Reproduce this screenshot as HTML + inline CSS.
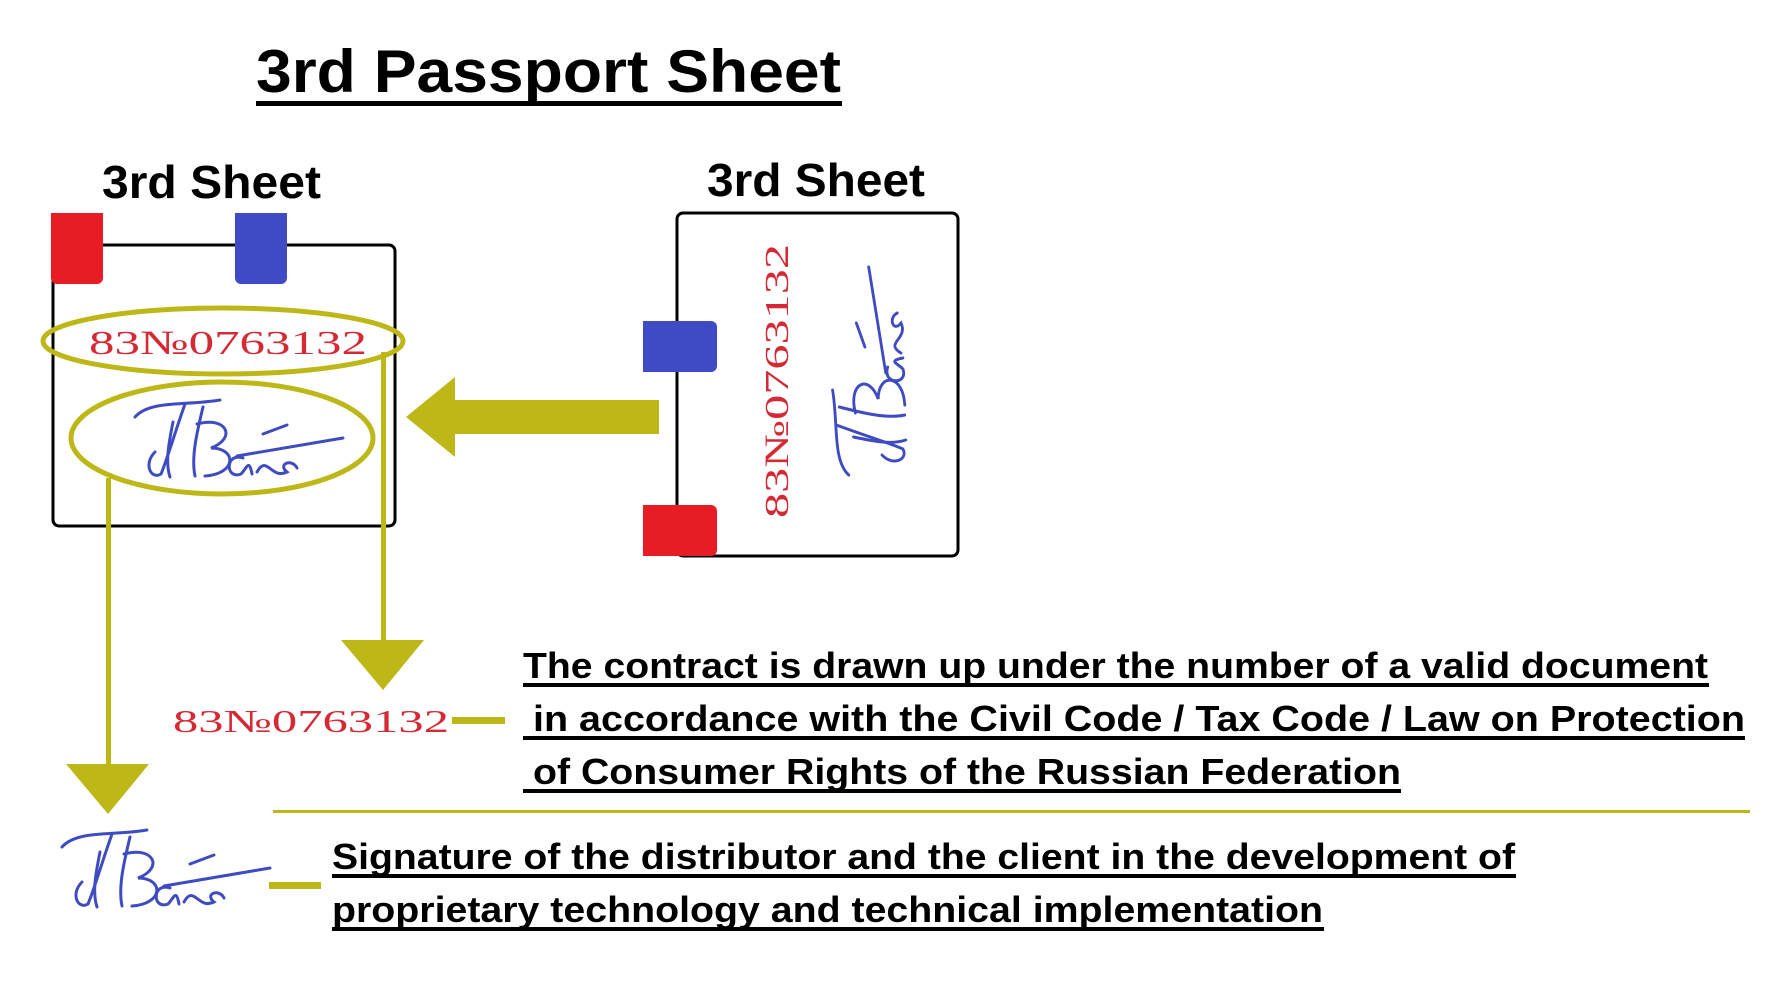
<!DOCTYPE html>
<html><head><meta charset="utf-8"><style>html,body{margin:0;padding:0;background:#fff}svg{display:block}</style></head>
<body>
<svg width="1780" height="1000" viewBox="0 0 1780 1000" xmlns="http://www.w3.org/2000/svg">
<defs>
<g id="sig" fill="none" stroke="#3f4cc0" stroke-width="3" stroke-linecap="round">
<path d="M10,25 C25,8 60,14 95,8"/>
<path d="M60,12 C50,40 42,68 36,82 C26,88 18,72 30,60"/>
<path d="M48,30 C44,50 40,70 45,85"/>
<path d="M78,15 C72,40 66,65 70,84 M72,32 C102,24 112,46 86,56 C112,56 112,82 80,84"/>
<path d="M118,66 C100,60 100,88 116,82 C122,76 124,66 127,82"/>
<path d="M132,80 C142,62 146,88 162,80 C152,72 167,66 172,76"/>
<path d="M138,42 L162,33"/>
<path d="M112,64 L218,46"/>
</g>
</defs>
<rect width="1780" height="1000" fill="#fff"/>
<!-- title -->
<text x="256" y="92" font-family="Liberation Sans, sans-serif" font-weight="bold" font-size="60" textLength="585" lengthAdjust="spacingAndGlyphs">3rd Passport Sheet</text>
<rect x="256" y="101" width="586" height="5" fill="#000"/>
<!-- left sheet -->
<text x="102" y="198" font-family="Liberation Sans, sans-serif" font-weight="bold" font-size="46" textLength="219" lengthAdjust="spacingAndGlyphs">3rd Sheet</text>
<rect x="53" y="245" width="342" height="281" rx="6" fill="none" stroke="#000" stroke-width="3"/>
<rect x="51" y="213" width="52" height="71" rx="6" fill="#e81c24"/>
<rect x="51" y="213" width="52" height="20" fill="#e81c24"/>
<rect x="235" y="213" width="52" height="71" rx="6" fill="#3f4bc5"/>
<rect x="235" y="213" width="52" height="20" fill="#3f4bc5"/>
<ellipse cx="223" cy="341" rx="180" ry="33" fill="none" stroke="#bdb717" stroke-width="5"/>
<text x="89" y="354" font-family="Liberation Serif, serif" font-size="34" fill="#d42a35" textLength="278" lengthAdjust="spacingAndGlyphs">83№0763132</text>
<ellipse cx="222" cy="438" rx="151" ry="56" fill="none" stroke="#bdb717" stroke-width="5"/>
<use href="#sig" transform="translate(125,392) scale(1.0,1.0)"/>
<!-- connectors -->
<rect x="106" y="478" width="5" height="290" fill="#bdb717"/>
<polygon points="66,764 149,764 108,814" fill="#bdb717"/>
<rect x="381" y="352" width="5" height="292" fill="#bdb717"/>
<polygon points="341,640 424,640 383,690" fill="#bdb717"/>
<!-- big arrow -->
<polygon points="406,417 455,377 455,400 659,400 659,434 455,434 455,457" fill="#bdb717"/>
<!-- right sheet -->
<text x="707" y="196" font-family="Liberation Sans, sans-serif" font-weight="bold" font-size="46" textLength="218" lengthAdjust="spacingAndGlyphs">3rd Sheet</text>
<rect x="677" y="213" width="281" height="343" rx="6" fill="none" stroke="#000" stroke-width="3"/>
<rect x="643" y="321" width="74" height="51" rx="6" fill="#3f4bc5"/>
<rect x="643" y="321" width="20" height="51" fill="#3f4bc5"/>
<rect x="643" y="505" width="74" height="51" rx="6" fill="#e81c24"/>
<rect x="643" y="505" width="20" height="51" fill="#e81c24"/>
<text transform="translate(788,518) rotate(-90)" font-family="Liberation Serif, serif" font-size="34" fill="#d42a35" textLength="274" lengthAdjust="spacingAndGlyphs">83№0763132</text>
<use href="#sig" transform="translate(825,485) rotate(-90) scale(1.0,0.95)"/>
<!-- bottom row 1 -->
<text x="173" y="732" font-family="Liberation Serif, serif" font-size="32" fill="#d42a35" textLength="276" lengthAdjust="spacingAndGlyphs">83№0763132</text>
<rect x="452" y="717" width="53" height="7" fill="#bdb717"/>
<g font-family="Liberation Sans, sans-serif" font-weight="bold" font-size="36" fill="#000">
<text x="523" y="678" textLength="1185" lengthAdjust="spacingAndGlyphs">The contract is drawn up under the number of a valid document</text>
<rect x="523" y="683" width="1186" height="4"/>
<text x="533" y="731" textLength="1212" lengthAdjust="spacingAndGlyphs">in accordance with the Civil Code / Tax Code / Law on Protection</text>
<rect x="523" y="736" width="1222" height="4"/>
<text x="533" y="784" textLength="868" lengthAdjust="spacingAndGlyphs">of Consumer Rights of the Russian Federation</text>
<rect x="523" y="789" width="878" height="4"/>
</g>
<rect x="273" y="810" width="1477" height="3" fill="#bdb717"/>
<!-- bottom row 2 -->
<use href="#sig" transform="translate(52,822) scale(1.0,1.0)"/>
<rect x="269" y="882" width="52" height="7" fill="#bdb717"/>
<g font-family="Liberation Sans, sans-serif" font-weight="bold" font-size="36" fill="#000">
<text x="332" y="869" textLength="1183" lengthAdjust="spacingAndGlyphs">Signature of the distributor and the client in the development of</text>
<rect x="332" y="874" width="1184" height="4"/>
<text x="332" y="922" textLength="991" lengthAdjust="spacingAndGlyphs">proprietary technology and technical implementation</text>
<rect x="332" y="927" width="992" height="4"/>
</g>
</svg>
</body></html>
